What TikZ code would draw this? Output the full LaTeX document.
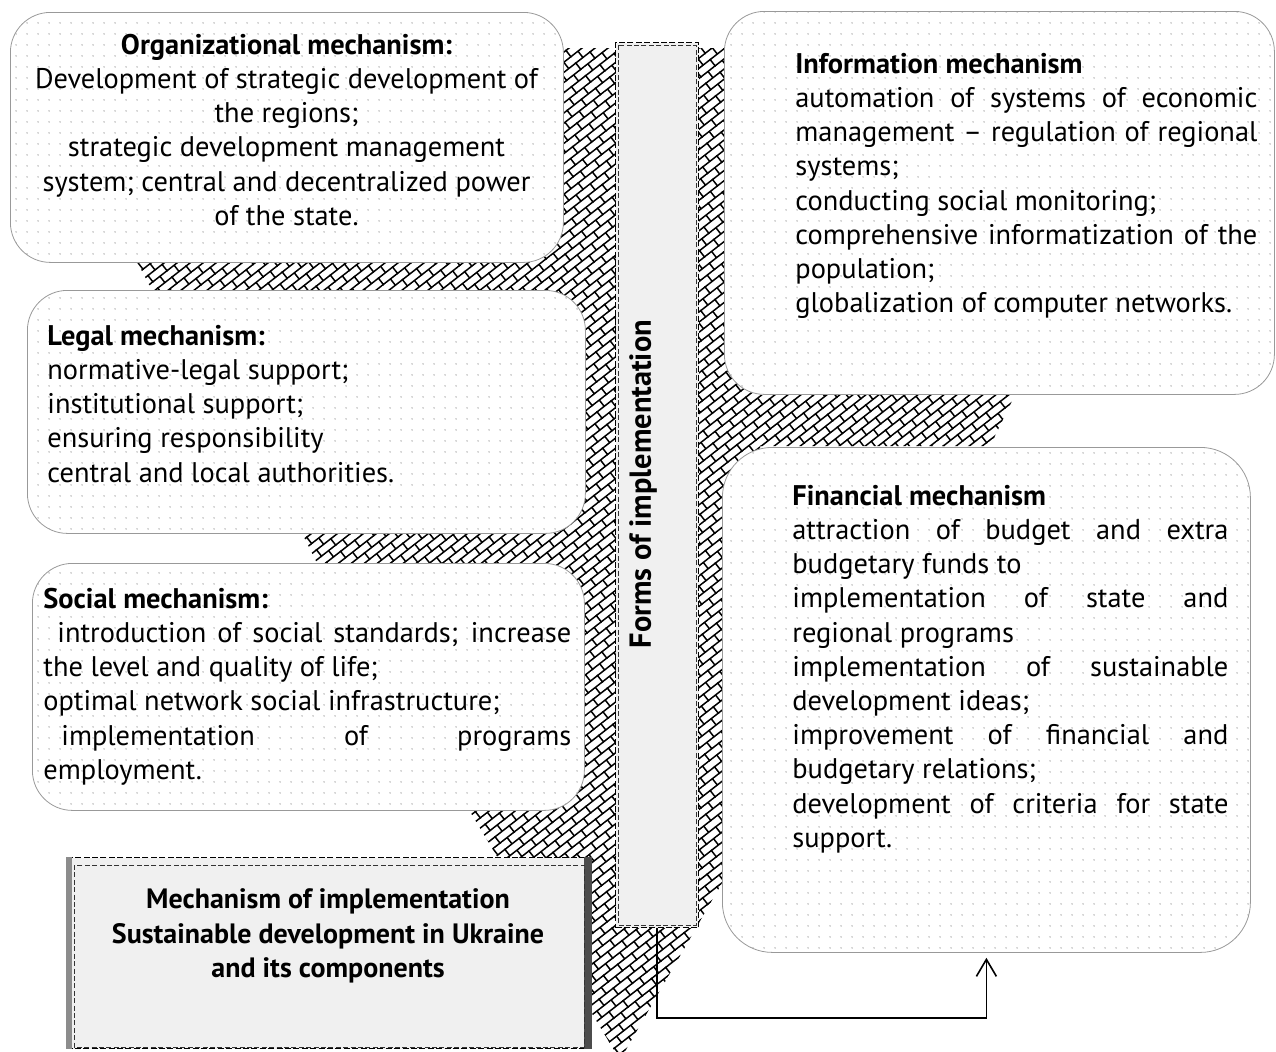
\documentclass[tikz,border=0pt]{standalone}
\usepackage{fontspec}
\setmainfont{PT Sans}
\usetikzlibrary{patterns.meta,arrows.meta}

\pgfdeclarepattern{
  name=dbrick, type=uncolored,
  bottom left={\pgfpoint{-0.5pt}{-0.5pt}},
  top right={\pgfpoint{9.5pt}{8.5pt}},
  tile size={\pgfpoint{9pt}{8pt}},
  tile transformation={\pgftransformrotate{38}},
  code={
    \pgfsetlinewidth{0.75pt}
    \pgfpathmoveto{\pgfpoint{-0.4pt}{0pt}}\pgfpathlineto{\pgfpoint{9.4pt}{0pt}}
    \pgfpathmoveto{\pgfpoint{-0.4pt}{4pt}}\pgfpathlineto{\pgfpoint{9.4pt}{4pt}}
    \pgfpathmoveto{\pgfpoint{0pt}{0pt}}\pgfpathlineto{\pgfpoint{0pt}{4pt}}
    \pgfpathmoveto{\pgfpoint{4.5pt}{4pt}}\pgfpathlineto{\pgfpoint{4.5pt}{8pt}}
    \pgfusepath{stroke}
  }
}
\pgfdeclarepattern{
  name=gdots, type=uncolored,
  bottom left={\pgfpoint{0pt}{0pt}},
  top right={\pgfpoint{5.5pt}{5.5pt}},
  tile size={\pgfpoint{5.5pt}{5.5pt}},
  code={\pgfpathcircle{\pgfpoint{2.75pt}{2.75pt}}{0.45pt}\pgfusepath{fill}}
}
\definecolor{barfill}{RGB}{240,240,240}

\tikzset{
  mechbox/.style={draw=black!40, line width=0.4pt, rounded corners=20pt,
    preaction={fill=white}, pattern=gdots, pattern color=black!30,
    anchor=north west, inner sep=0pt},
  txt/.style={inner sep=0pt, anchor=north west, align=left,
    font=\fontsize{14.2}{17.1}\selectfont},
  barbox/.style={fill=barfill, draw=black, line width=0.6pt,
    dash pattern=on 3pt off 1.2pt, anchor=north west, inner sep=0pt},
  innerdash/.style={draw=black!80, line width=0.35pt, dash pattern=on 2.5pt off 1.2pt},
  arrowline/.style={draw=black, line width=0.8pt,
    -{Straight Barb[length=8.5pt,width=10pt,line width=0.8pt]}, shorten >=2.5pt},
}

\begin{document}
\begin{tikzpicture}[x=0.5pt,y=-0.5pt]
\useasboundingbox (0,0) rectangle (1276,1051);

% hatched background band
\path[pattern=dbrick, pattern color=black]
  (540,48) -- (760,48) -- (760,395) -- (1015,395) -- (990,446) -- (760,446)
  -- (760,817) -- (620,1060) -- (469,810) -- (469,563) -- (317,563)
  -- (302,533) -- (469,533) -- (469,292) -- (153,292) -- (137,262)
  -- (540,262) -- cycle;

% mechanism boxes
\node[mechbox, minimum width=276.5pt, minimum height=125pt] (org) at (10,12) {};
\node[mechbox, minimum width=279pt, minimum height=121.5pt] (legal) at (27,290) {};
\node[mechbox, minimum width=276pt, minimum height=123.5pt] (social) at (32,563) {};
\node[mechbox, minimum width=275pt, minimum height=191.5pt] (info) at (724,11) {};
\node[mechbox, rounded corners=25pt, minimum width=264pt, minimum height=252.5pt] (fin) at (722,447) {};

% texts
\node[txt, anchor=north, align=center] (orgtxt) at (286.5,30) {\strut\textbf{Organizational mechanism:}\\
Development of strategic development of\\
the regions;\\
strategic development management\\
system; central and decentralized power\\
of the state.};

\node[txt] (legaltxt) at (47,321) {\strut\textbf{Legal mechanism:}\\
normative-legal support;\\
institutional support;\\
ensuring responsibility\\
central and local authorities.};

\node[txt] (socialtxt) at (43,584) {\strut\textbf{Social mechanism:}\\
\hspace*{7pt}\makebox[257pt][s]{introduction of social standards; increase}\\
the level and quality of life;\\
optimal network social infrastructure;\\
\hspace*{9pt}\makebox[255pt][s]{implementation of programs}\\
employment.};

\node[txt] (infotxt) at (795,49) {\strut\textbf{Information mechanism}\\
\makebox[231pt][s]{automation of systems of economic}\\
\makebox[231pt][s]{management – regulation of regional}\\
systems;\\
conducting social monitoring;\\
\makebox[231pt][s]{comprehensive informatization of the}\\
population;\\
globalization of computer networks.};

\node[txt] (fintxt) at (792,481) {\strut\textbf{Financial mechanism}\\
\makebox[218pt][s]{attraction of budget and extra}\\
budgetary funds to\\
\makebox[218pt][s]{implementation of state and}\\
regional programs\\
\makebox[218pt][s]{implementation of sustainable}\\
development ideas;\\
\makebox[218pt][s]{improvement of financial and}\\
budgetary relations;\\
\makebox[218pt][s]{development of criteria for state}\\
support.};

% central bar
\node[barbox, minimum width=41.5pt, minimum height=442.5pt] (bar) at (615,42) {};
\draw[innerdash] ([shift={(1.6pt,-1.6pt)}]bar.north west) rectangle ([shift={(-1.6pt,1.6pt)}]bar.south east);
\node[rotate=90, inner sep=0pt, font=\bfseries\fontsize{15.2}{17}\selectfont] (barlbl) at (643,484) {Forms of implementation};

% bottom box
\node[barbox, minimum width=262.5pt, minimum height=95.5pt] (main) at (66,857) {};
\fill[black!45] (main.north west) rectangle ([xshift=3pt]main.south west);
\fill[black!70] ([xshift=-4pt]main.north east) rectangle (main.south east);
\draw[innerdash] ([shift={(4pt,-4pt)}]main.north west) rectangle ([shift={(-4pt,1pt)}]main.south east);
\node[txt, anchor=north, align=center, font=\bfseries\fontsize{14}{17.3}\selectfont] (maintxt) at (328,884) {\strut Mechanism of implementation\\
Sustainable development in Ukraine\\
and its components};

% connector
\coordinate (turn) at (657,1018);
\draw[arrowline] (bar.south) -- (bar.south |- turn) -| (fin.south);
\end{tikzpicture}
\end{document}
